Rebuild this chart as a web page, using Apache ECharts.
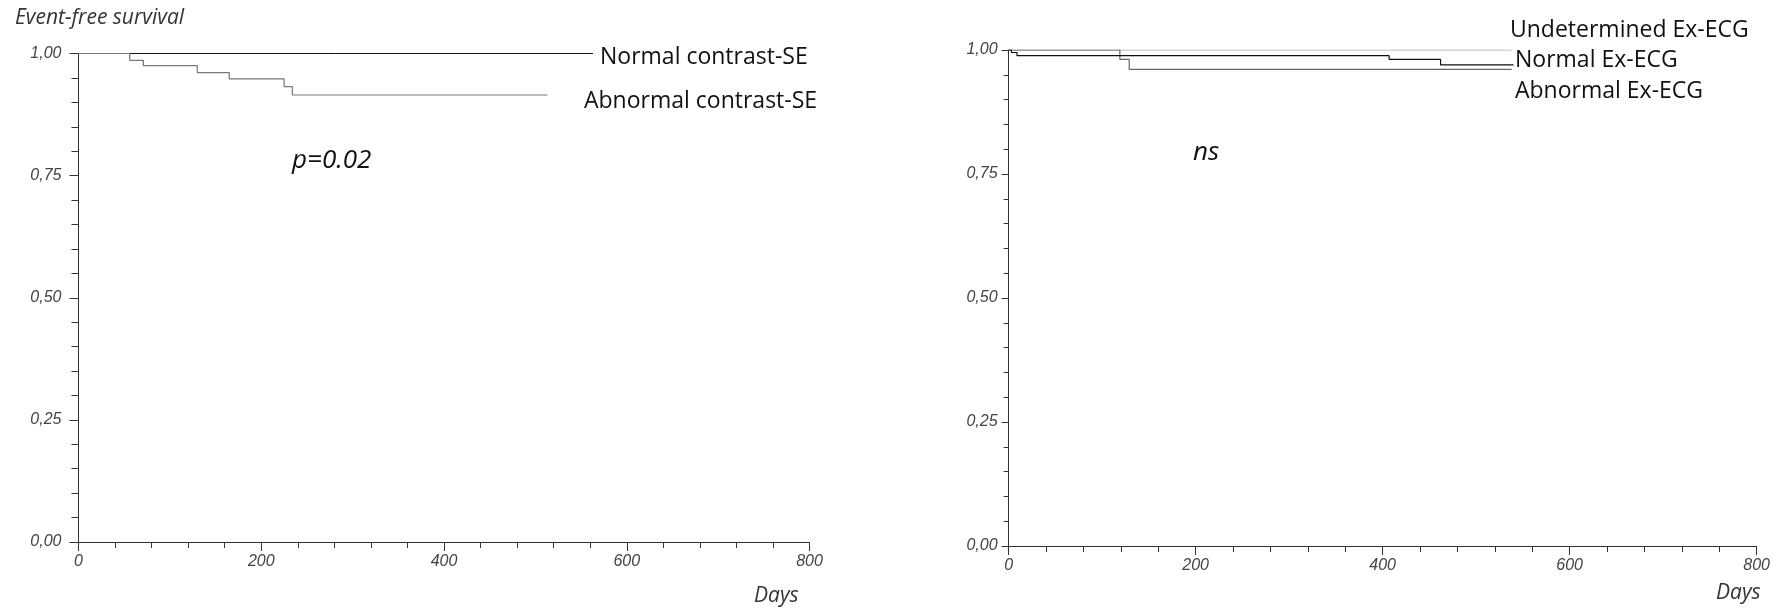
<!DOCTYPE html>
<html>
<head>
<meta charset="utf-8">
<script src="https://cdn.jsdelivr.net/npm/echarts@6/dist/echarts.min.js"></script>
<style>
  html, body { margin: 0; padding: 0; background: #fff; }
  #chart { width: 1785px; height: 609px; }
</style>
</head>
<body>
<div id="chart"></div>
<script>
// 数据：Kaplan-Meier 曲线的台阶点 [天数, 生存率]
const normalSE = [[0, 1], [563, 1]]
const abnormalSE = [[0, 1], [56, 0.986], [71, 0.975], [130, 0.961], [165, 0.948], [225, 0.932], [234, 0.915], [513, 0.915]]

const undeterminedECG = [[0, 1], [538, 1]]
const normalECG = [[0, 1], [3, 0.995], [9, 0.9885], [407, 0.981], [462, 0.970], [540, 0.970]]
const abnormalECG = [[0, 1], [119, 0.981], [129, 0.961], [538, 0.961]]

const xTicks = [0, 200, 400, 600, 800]
const yTicks = [0, 0.25, 0.5, 0.75, 1]

;(function () {
  let myChart = echarts.init(document.getElementById('chart'))

  const axisColor = '#333'
  const tickFont = { fontFamily: 'Liberation Sans', fontStyle: 'italic', fontSize: 16, color: '#444' }

  function xAxis(gridIndex) {
    return {
      type: 'value', gridIndex: gridIndex, min: 0, max: 800, interval: 200,
      axisLine: { lineStyle: { color: axisColor, width: 1 } },
      axisTick: { show: true, length: 9, lineStyle: { color: axisColor } },
      minorTick: { show: true, splitNumber: 5, length: 6, lineStyle: { color: axisColor } },
      splitLine: { show: false },
      axisLabel: Object.assign({ margin: 12, formatter: v => xTicks.includes(v) ? String(v) : '' }, tickFont)
    }
  }
  function yAxis(gridIndex, tickLen, margin) {
    return {
      type: 'value', gridIndex: gridIndex, min: 0, max: 1, interval: 0.25,
      axisLine: { show: true, lineStyle: { color: axisColor, width: 1 } },
      axisTick: { show: true, length: tickLen, lineStyle: { color: axisColor } },
      minorTick: { show: true, splitNumber: 5, length: tickLen - 2, lineStyle: { color: axisColor } },
      splitLine: { show: false },
      axisLabel: Object.assign({ margin: margin, formatter: v => yTicks.includes(v) ? v.toFixed(2).replace('.', ',') : '' }, tickFont)
    }
  }
  function km(name, data, xi, color, width) {
    return {
      name: name, type: 'line', step: 'end', xAxisIndex: xi, yAxisIndex: xi,
      data: data, symbol: 'none', silent: true,
      lineStyle: { color: color, width: width }
    }
  }

  const labelFont = { fontFamily: 'Open Sans', fontSize: 23, fill: '#111' }
  function txt(x, y, text, extra) {
    return { type: 'text', left: x, top: y, style: Object.assign({ text: text }, labelFont, extra || {}) }
  }
  const italicSmall = { fontSize: 21, fontStyle: 'italic', fill: '#333' }
  const italicBig = { fontSize: 26, fontStyle: 'italic' }

  let option = {
    animation: false,
    grid: [
      { left: 78.5, right: 975.5, top: 53.5, bottom: 67 },
      { left: 1008.6, right: 28.4, top: 50, bottom: 63 }
    ],
    xAxis: [xAxis(0), xAxis(1)],
    yAxis: [yAxis(0, 9, 17), yAxis(1, 7, 11)],
    series: [
      km('Normal contrast-SE', normalSE, 0, '#111', 1),
      km('Abnormal contrast-SE', abnormalSE, 0, '#777', 1.2),
      km('Undetermined Ex-ECG', undeterminedECG, 1, '#aaa', 1.2),
      km('Abnormal Ex-ECG', abnormalECG, 1, '#666', 1.2),
      km('Normal Ex-ECG', normalECG, 1, '#111', 1.2)
    ],
    graphic: [
      txt(15, 8, 'Event-free survival', italicSmall),
      txt(600, 46, 'Normal contrast-SE'),
      txt(584, 90, 'Abnormal contrast-SE'),
      txt(292, 148, 'p=0.02', italicBig),
      txt(754, 586, 'Days', italicSmall),
      txt(1510, 19, 'Undetermined Ex-ECG'),
      txt(1515, 49, 'Normal Ex-ECG'),
      txt(1515, 80, 'Abnormal Ex-ECG'),
      txt(1193, 140, 'ns', italicBig),
      txt(1716, 583, 'Days', italicSmall)
    ]
  }

  myChart.setOption(option)
})();
</script>
</body>
</html>
